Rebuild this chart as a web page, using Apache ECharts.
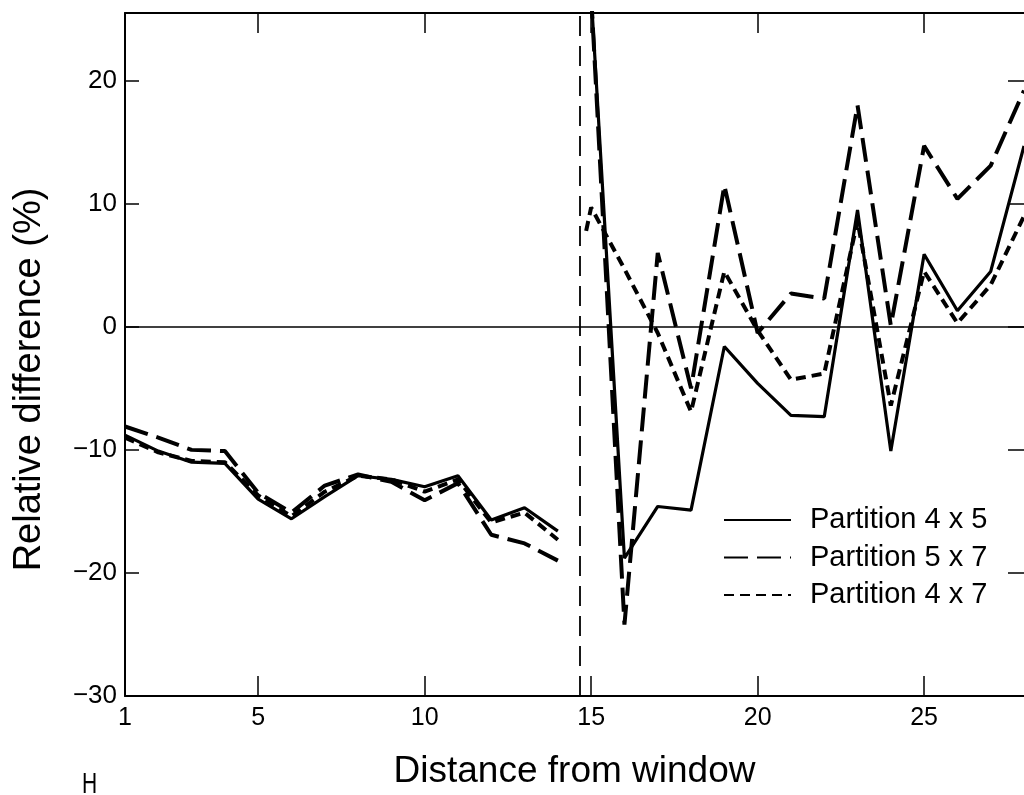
<!DOCTYPE html>
<html>
<head>
<meta charset="utf-8">
<title>Relative difference vs distance from window</title>
<script src="https://cdn.jsdelivr.net/npm/echarts@6/dist/echarts.min.js"></script>
<style>
  html, body { margin: 0; padding: 0; background: #fff; }
  #chart { width: 1024px; height: 795px; }
</style>
</head>
<body>
<div id="chart"></div>
<script>
// Distances from the window: first wall (1-14) and second wall (15-28)
const distLeft = [1, 2, 3, 4, 5, 6, 7, 8, 9, 10, 11, 12, 13, 14];
const distRight = [15, 16, 17, 18, 19, 20, 21, 22, 23, 24, 25, 26, 27, 28];

// Relative difference (%) per partition
const part45Left = [-8.8, -10.1, -11.0, -11.1, -14.0, -15.6, -13.8, -12.1, -12.4, -13.0, -12.1, -15.7, -14.7, -16.6];
const part57Left = [-8.1, -9.0, -10.0, -10.1, -13.5, -15.1, -12.9, -12.0, -12.6, -14.1, -12.7, -16.9, -17.6, -19.0];
const part47Left = [-9.0, -10.2, -10.9, -11.0, -13.7, -15.4, -13.4, -12.1, -12.4, -13.4, -12.4, -15.9, -15.1, -17.3];

const part45Right = [27.0, -18.8, -14.6, -14.9, -1.6, -4.6, -7.2, -7.3, 9.5, -10.1, 5.9, 1.3, 4.5, 14.7];
const part57Right = [27.0, -24.2, 6.0, -5.0, 11.5, -0.5, 2.7, 2.3, 18.0, 0.1, 14.7, 10.4, 13.1, 19.2];
const part47Right = [9.7, 4.7, -0.5, -6.9, 4.5, -0.3, -4.3, -3.8, 8.6, -6.4, 4.5, 0.3, 3.4, 9.0];
const part47Lead = [14.85, 7.8];   // short rise just before the second wall starts

const separatorX = 14.66;          // boundary between the two walls

const xLabelValues = [1, 5, 10, 15, 20, 25];
const xTickValues = [5, 10, 15, 20, 25];
const yLabelValues = [-30, -20, -10, 0, 10, 20];
const yTickValues = [-20, -10, 0, 10, 20];

const names = ['Partition 4 x 5', 'Partition 5 x 7', 'Partition 4 x 7'];

// Join both walls into one line, broken between them
function joined(xl, yl, xr, yr, lead) {
  const out = xl.map((x, i) => [x, yl[i]]);
  out.push([(xl[xl.length - 1] + xr[0]) / 2, null]);
  if (lead) out.push(lead);
  xr.forEach((x, i) => out.push([x, yr[i]]));
  return out;
}

const FONT = "'Liberation Sans', Arial, Helvetica, sans-serif";
const minus = v => (v < 0 ? '\u2212' + Math.abs(v) : String(v));

const chart = echarts.init(document.getElementById('chart'), null, { renderer: 'canvas' });

const axisLine = { show: true, onZero: false, lineStyle: { color: '#000', width: 2 } };
const tickStyle = { color: '#000', width: 1.5 };

chart.setOption({
  animation: false,
  backgroundColor: '#fff',
  color: ['#000', '#000', '#000'],
  grid: { left: 125, right: -2, top: 13, bottom: 97 },
  legend: {
    left: 723,
    top: 505,
    orient: 'vertical',
    itemWidth: 67,
    itemHeight: 14,
    itemGap: 7.5,
    padding: 0,
    data: names,
    itemStyle: { opacity: 0 },
    textStyle: { fontFamily: FONT, fontSize: 29, color: '#000', lineHeight: 30, padding: [0, 0, 0, 14] }
  },
  xAxis: [
    {
      type: 'value', position: 'bottom', min: 1, max: 28,
      axisLine: axisLine,
      axisTick: { show: true, inside: true, length: 20, customValues: xTickValues, lineStyle: tickStyle },
      axisLabel: { customValues: xLabelValues, fontFamily: FONT, fontSize: 25, color: '#000', margin: 10 },
      splitLine: { show: false },
      name: 'Distance from window',
      nameLocation: 'middle',
      nameGap: 57,
      nameTextStyle: { fontFamily: FONT, fontSize: 37, color: '#000' }
    },
    {
      type: 'value', position: 'top', min: 1, max: 28,
      axisLine: axisLine,
      axisTick: { show: true, inside: true, length: 20, customValues: xTickValues, lineStyle: tickStyle },
      axisLabel: { show: false },
      splitLine: { show: false }
    }
  ],
  yAxis: [
    {
      type: 'value', position: 'left', min: -30, max: 25.5,
      axisLine: axisLine,
      axisTick: { show: true, inside: true, length: 14, customValues: yTickValues, lineStyle: tickStyle },
      axisLabel: { customValues: yLabelValues, formatter: minus, fontFamily: FONT, fontSize: 26, color: '#000', margin: 8 },
      splitLine: { show: false },
      name: 'Relative difference (%)',
      nameLocation: 'middle',
      nameGap: 76,
      nameTextStyle: { fontFamily: FONT, fontSize: 38, color: '#000', padding: [0, 50, 0, 0] }
    },
    {
      // right-hand frame sits just past the page edge; only its inward ticks show
      type: 'value', position: 'right', min: -30, max: 25.5,
      axisLine: { show: false, onZero: false },
      axisTick: { show: true, inside: true, length: 16, customValues: yTickValues, lineStyle: tickStyle },
      axisLabel: { show: false },
      splitLine: { show: false }
    }
  ],
  series: [
    {
      name: names[0], type: 'line', xAxisIndex: 0, yAxisIndex: 0,
      data: joined(distLeft, part45Left, distRight, part45Right),
      showSymbol: false, symbol: 'none', connectNulls: false, clip: true,
      itemStyle: { color: '#000' },
      lineStyle: { color: '#000', width: 3.2, type: 'solid' },
      markLine: {
        silent: true, symbol: 'none', label: { show: false },
        data: [
          { xAxis: separatorX, lineStyle: { color: '#000', width: 1.8, type: [20, 10] } },
          { yAxis: 0, lineStyle: { color: '#000', width: 1.5, type: 'solid' } }
        ]
      }
    },
    {
      name: names[1], type: 'line', xAxisIndex: 0, yAxisIndex: 0,
      data: joined(distLeft, part57Left, distRight, part57Right),
      showSymbol: false, symbol: 'none', connectNulls: false, clip: true,
      itemStyle: { color: '#000' },
      lineStyle: { color: '#000', width: 4, type: [24, 9] }
    },
    {
      name: names[2], type: 'line', xAxisIndex: 0, yAxisIndex: 0,
      data: joined(distLeft, part47Left, distRight, part47Right, part47Lead),
      showSymbol: false, symbol: 'none', connectNulls: false, clip: true,
      itemStyle: { color: '#000' },
      lineStyle: { color: '#000', width: 4, type: [10, 6] }
    }
  ],
  graphic: [
    { type: 'text', left: 82, top: 770, scaleX: 0.7, style: { text: 'H', fontFamily: FONT, fontSize: 30, fill: '#000' } }
  ]
});
</script>
</body>
</html>
